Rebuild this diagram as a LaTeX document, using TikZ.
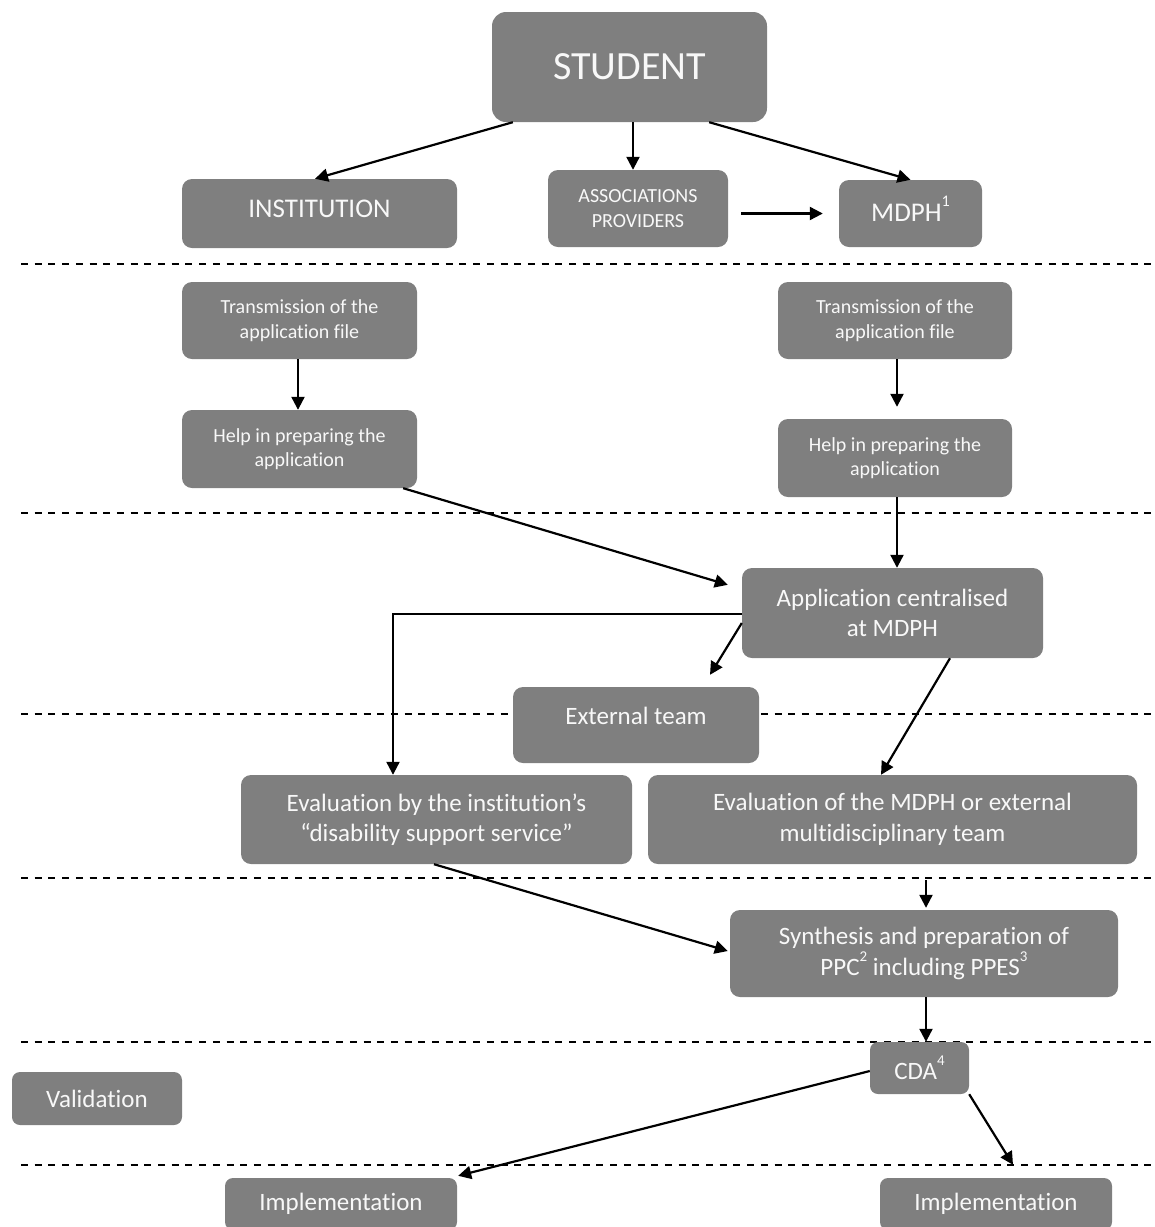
\documentclass[tikz,border=0pt]{standalone}
\usepackage{fontspec}
\setmainfont{Carlito}[Ligatures=NoCommon]
\usetikzlibrary{arrows.meta}
\definecolor{boxgray}{RGB}{127,127,127}
\definecolor{boxtext}{RGB}{248,248,248}
\newcommand{\supx}[1]{\raisebox{0.55em}{\scalebox{0.6}{#1}}}
\begin{document}
\begin{tikzpicture}[x=1pt,y=-1pt,
  box/.style={fill=boxgray, rounded corners=10pt, text=boxtext, align=center, inner sep=0pt,
              font=\fontsize{25}{30.5}\selectfont},
  smalltxt/.style={font=\fontsize{20}{24.4}\selectfont},
  midtxt/.style={font=\fontsize{27}{33}\selectfont},
  arr/.style={-{Triangle[length=13pt,width=13pt]}, line width=2.2pt},
  sepline/.style={dash pattern=on 7pt off 6.7pt, line width=1.5pt}]
\useasboundingbox (0,0) rectangle (1155,1227);
\clip (0,0) rectangle (1155,1227);

% separators
\foreach \yy in {264,513,714,878,1042,1165}
  \draw[sepline] (21,\yy) -- (1154,\yy);

% boxes
\node[box, rounded corners=14pt, minimum width=275pt, minimum height=110pt,
      font=\fontsize{40}{48}\selectfont] (student) at (629.5,67) {STUDENT};
\node[box, midtxt, minimum width=275pt, minimum height=69pt] (inst) at (319.5,213.5) {\raisebox{10pt}{INSTITUTION}};
\node[box, smalltxt, minimum width=180pt, minimum height=77pt] (assoc) at (638,208.5) {ASSOCIATIONS\\PROVIDERS};
\node[box, midtxt, minimum width=143pt, minimum height=67pt] (mdph) at (910.5,213.5) {\raisebox{10pt}{MDPH\supx{1}}};

\node[box, smalltxt, minimum width=235pt, minimum height=77pt] (transL) at (299.5,320.5) {Transmission of the\\application file};
\node[box, smalltxt, minimum width=235pt, minimum height=78pt] (helpL) at (299.5,449) {Help in preparing the\\application};
\node[box, smalltxt, minimum width=234pt, minimum height=77pt] (transR) at (895,320.5) {Transmission of the\\application file};
\node[box, smalltxt, minimum width=234pt, minimum height=78pt] (helpR) at (895,458) {Help in preparing the\\application};

\node[box, minimum width=301pt, minimum height=90pt] (app) at (892.5,613) {Application centralised\\at MDPH};
\node[box, minimum width=246pt, minimum height=76pt] (ext) at (636,725) {\raisebox{18pt}{External team}};
\node[box, minimum width=391pt, minimum height=89pt] (evalI) at (436.5,819.5) {Evaluation by the institution’s\\“disability support service”};
\node[box, minimum width=489pt, minimum height=89pt] (evalM) at (892.5,819.5) {Evaluation of the MDPH or external\\multidisciplinary team};
\node[box, minimum width=388pt, minimum height=87pt] (synth) at (924,953.5) {Synthesis and preparation of\\PPC\supx{2} including PPES\supx{3}};
\node[box, rounded corners=8pt, minimum width=99pt, minimum height=52pt] (cda) at (919.5,1068) {CDA\supx{4}};
\node[box, rounded corners=8pt, minimum width=170pt, minimum height=53pt] (valid) at (97,1098.5) {Validation};
\node[box, rounded corners=8pt, minimum width=232pt, minimum height=52pt] (implL) at (341,1204) {Implementation};
\node[box, rounded corners=8pt, minimum width=232pt, minimum height=52pt] (implR) at (996,1204) {Implementation};

% connectors
\draw[arr] ([xshift=21pt]student.south west) -- ([xshift=-4.5pt]inst.north);
\draw[arr] ([xshift=3.5pt]student.south) -- ([xshift=-5pt]assoc.north);
\draw[arr] ([xshift=-58pt]student.south east) -- (mdph.north);
\draw[arr] ([xshift=13pt]assoc.east |- mdph.west) -- ([xshift=-16pt]mdph.west);

\draw[arr] ([xshift=-1.5pt]transL.south) -- ([xshift=-1.5pt]helpL.north);
\draw[arr] ([xshift=2pt]transR.south) -- ([xshift=2pt,yshift=12pt]helpR.north);
\draw[arr] ([xshift=-14pt]helpL.south east) -- ([xshift=-14pt,yshift=-17pt]app.north west);
\draw[arr] ([xshift=2pt]helpR.south) -- ([xshift=4.5pt]app.north);

\draw[arr] ([yshift=-1pt]app.west) -| ([xshift=-43.5pt]evalI.north);
\draw[arr] ([yshift=-10pt]app.west) -- ([xshift=74pt,yshift=12pt]ext.north);
\draw[arr] ([xshift=57.5pt]app.south) -- ([xshift=-11.5pt]evalM.north);

\draw[arr] ([xshift=-2.5pt]evalI.south) -- ([xshift=-2pt,yshift=2.5pt]synth.west);
\draw[arr, shorten <=16pt] ([xshift=33.5pt]evalM.south) -- ([xshift=2pt,yshift=2pt]synth.north);
\draw[arr] ([xshift=2pt]synth.south) -- ([xshift=6.5pt]cda.north);

\draw[arr] ([yshift=-3pt]cda.west) -- ([xshift=1pt,yshift=2pt]implL.north east);
\draw[arr] (cda.south east) -- ([xshift=17pt,yshift=13pt]implR.north);
\end{tikzpicture}
\end{document}
